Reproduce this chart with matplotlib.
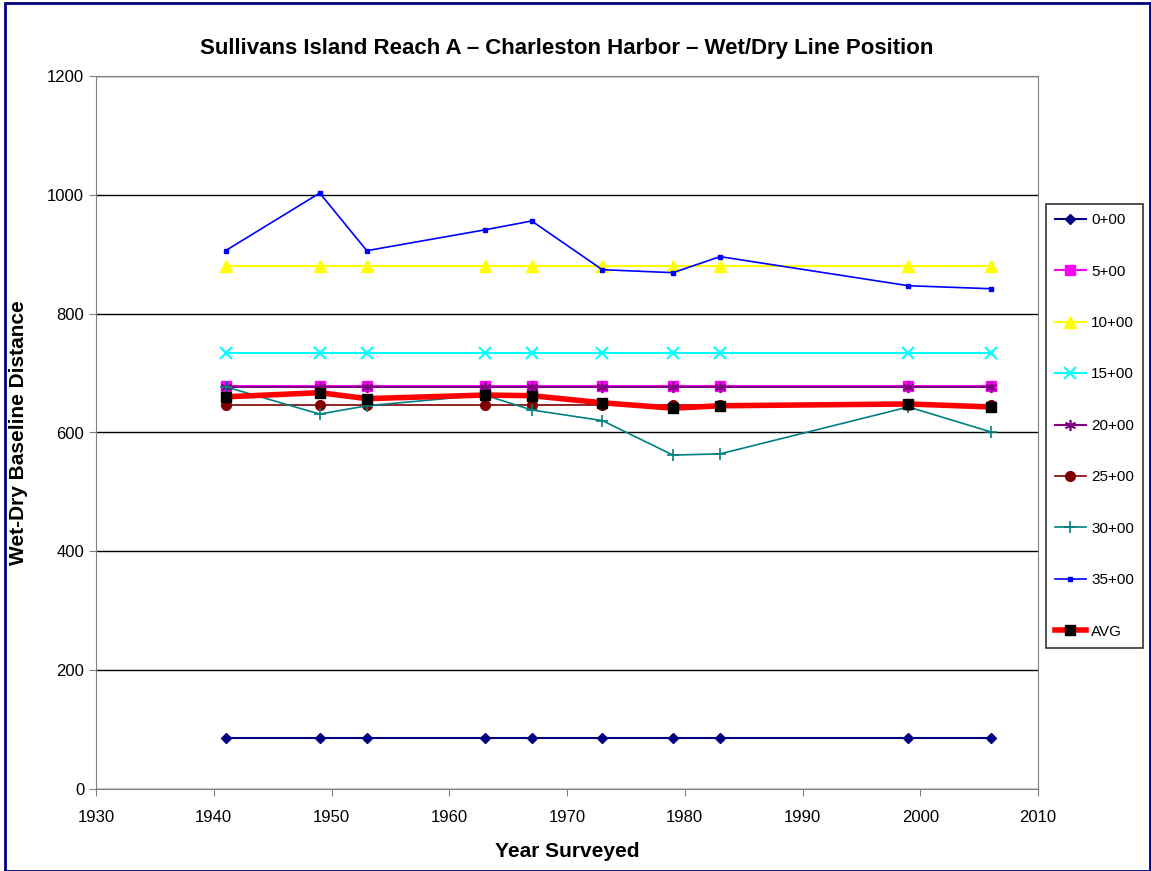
import matplotlib
matplotlib.use("Agg")
import matplotlib.pyplot as plt
from matplotlib.patches import Rectangle

plt.rcParams['font.family'] = ['Liberation Sans', 'DejaVu Sans']

# --- DATA ---
years = [1941, 1949, 1953, 1963, 1967, 1973, 1979, 1983, 1999, 2006]

s0 = [85, 85, 85, 85, 85, 85, 85, 85, 85, 85]
s5 = [678, 678, 678, 678, 678, 678, 678, 678, 678, 678]
s10 = [880, 880, 880, 880, 880, 880, 880, 880, 880, 880]
s15 = [734, 734, 734, 734, 734, 734, 734, 734, 734, 734]
s20 = [677, 677, 677, 677, 677, 677, 677, 677, 677, 677]
s25 = [646, 646, 646, 646, 646, 646, 646, 646, 646, 646]
s30 = [677, 631, 645, 663, 638, 620, 562, 564, 643, 601]
s35 = [906, 1003, 906, 941, 956, 874, 869, 896, 847, 842]
avg = [660, 667, 657, 663, 662, 650, 641, 645, 648, 643]

# --- PLOT ---
fig = plt.figure(figsize=(11.51, 8.71), dpi=100)
ax = fig.add_axes([96 / 1151, 1 - 789 / 871, (1038 - 96) / 1151, (789 - 76) / 871])

ax.plot(years, s0, color='#000080', marker='D', ms=5, lw=1.5, label='0+00')
ax.plot(years, s5, color='#FF00FF', marker='s', ms=7, lw=1.5, label='5+00')
ax.plot(years, s10, color='#FFFF00', marker='^', ms=8, lw=1.5, label='10+00')
ax.plot(years, s15, color='#00FFFF', marker='x', ms=8, mew=1.5, lw=1.5, label='15+00')
ax.plot(years, s20, color='#800080', marker=(6, 2, 0), ms=8, mew=1.2, lw=1.5, label='20+00')
ax.plot(years, s25, color='#800000', marker='o', ms=7, lw=1.2, label='25+00')
ax.plot(years, s30, color='#008080', marker='+', ms=8, mew=1.2, lw=1.2, label='30+00')
ax.plot(years, s35, color='#0000FF', marker='s', ms=2.5, lw=1.2, label='35+00')
ax.plot(years, avg, color='#FF0000', marker='s', ms=7, mfc='black', mec='black',
        lw=4, label='AVG')

ax.set_xlim(1930, 2010)
ax.set_ylim(0, 1200)
ax.set_xticks(range(1930, 2011, 10))
ax.set_yticks(range(0, 1201, 200))
ax.yaxis.grid(True, color='black', lw=1)
ax.set_axisbelow(True)
for sp in ax.spines.values():
    sp.set_color('#808080')
ax.tick_params(axis='both', colors='#808080', labelcolor='black', labelsize=12,
               length=5, direction='out')
ax.tick_params(axis='x', pad=10)

ax.set_title("Sullivans Island Reach A \u2013 Charleston Harbor \u2013 Wet/Dry Line Position",
             fontsize=16, fontweight='bold', pad=16)
ax.set_xlabel("Year Surveyed", fontsize=15, fontweight='bold', labelpad=12)
ax.set_ylabel("Wet-Dry Baseline Distance", fontsize=15, fontweight='bold', labelpad=14)

leg = fig.legend(loc='upper left', bbox_to_anchor=(1046 / 1151, 1 - 204 / 871),
                 borderaxespad=0, frameon=True, fancybox=False, edgecolor='black',
                 fontsize=11, labelspacing=2.45, handlelength=2.0, borderpad=0.6,
                 handletextpad=0.35)
leg.get_frame().set_linewidth(1.2)

# outer chart border
fig.patches.append(Rectangle((0.004, 0.0), 0.995, 0.996, transform=fig.transFigure,
                             fill=False, edgecolor='#000080', lw=2))

fig.savefig("out.png", dpi=100)
